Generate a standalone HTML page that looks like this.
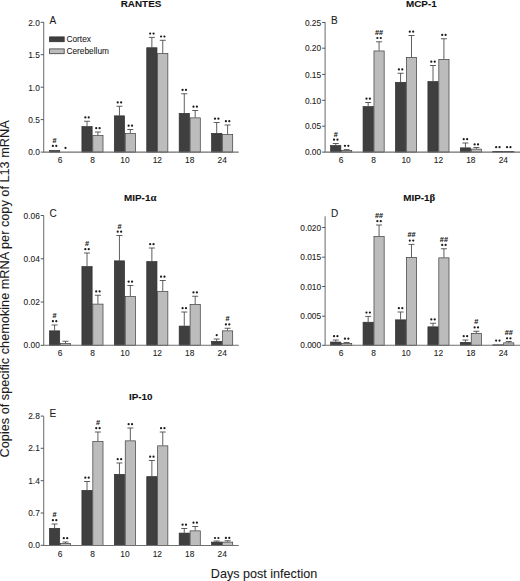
<!DOCTYPE html>
<html><head><meta charset="utf-8"><title>Chemokine mRNA</title>
<style>
html,body{margin:0;padding:0;background:#fff;}
body{width:520px;height:581px;overflow:hidden;font-family:"Liberation Sans",sans-serif;}
svg{display:block;}
svg text{font-family:"Liberation Sans",sans-serif;stroke:#222;stroke-width:0.08px;}
</style></head>
<body>
<svg width="520" height="581" viewBox="0 0 520 581">
<rect width="520" height="581" fill="#fff"/>
<rect x="49.50" y="150.55" width="10.20" height="1.55" fill="#3f3f3f" stroke="#2e2e2e" stroke-width="0.7"/>
<circle cx="52.90" cy="145.90" r="1.12" fill="#1c1c1c"/><circle cx="56.30" cy="145.90" r="1.12" fill="#1c1c1c"/>
<text x="54.60" y="142.70" font-size="7.3" font-weight="bold" text-anchor="middle" fill="#111" stroke="#111" stroke-width="0.2">#</text>
<circle cx="65.50" cy="147.90" r="1.1" fill="#1c1c1c"/>
<path d="M87.02 126.25V121.25M84.02 121.25H90.02" stroke="#4c4c4c" stroke-width="0.9" fill="none"/>
<rect x="81.92" y="126.60" width="10.20" height="25.50" fill="#3f3f3f" stroke="#2e2e2e" stroke-width="0.7"/>
<circle cx="85.32" cy="117.45" r="1.12" fill="#1c1c1c"/><circle cx="88.72" cy="117.45" r="1.12" fill="#1c1c1c"/>
<path d="M97.92 135.25V132.00M94.92 132.00H100.92" stroke="#4c4c4c" stroke-width="0.9" fill="none"/>
<rect x="92.82" y="135.60" width="10.20" height="16.50" fill="#bcbcbc" stroke="#3c3c3c" stroke-width="0.7"/>
<circle cx="96.22" cy="128.20" r="1.12" fill="#1c1c1c"/><circle cx="99.62" cy="128.20" r="1.12" fill="#1c1c1c"/>
<path d="M119.44 115.50V106.25M116.44 106.25H122.44" stroke="#4c4c4c" stroke-width="0.9" fill="none"/>
<rect x="114.34" y="115.85" width="10.20" height="36.25" fill="#3f3f3f" stroke="#2e2e2e" stroke-width="0.7"/>
<circle cx="117.74" cy="102.45" r="1.12" fill="#1c1c1c"/><circle cx="121.14" cy="102.45" r="1.12" fill="#1c1c1c"/>
<path d="M130.34 133.25V129.50M127.34 129.50H133.34" stroke="#4c4c4c" stroke-width="0.9" fill="none"/>
<rect x="125.24" y="133.60" width="10.20" height="18.50" fill="#bcbcbc" stroke="#3c3c3c" stroke-width="0.7"/>
<circle cx="128.64" cy="125.70" r="1.12" fill="#1c1c1c"/><circle cx="132.04" cy="125.70" r="1.12" fill="#1c1c1c"/>
<path d="M151.86 47.40V37.40M148.86 37.40H154.86" stroke="#4c4c4c" stroke-width="0.9" fill="none"/>
<rect x="146.76" y="47.75" width="10.20" height="104.35" fill="#3f3f3f" stroke="#2e2e2e" stroke-width="0.7"/>
<circle cx="150.16" cy="33.60" r="1.12" fill="#1c1c1c"/><circle cx="153.56" cy="33.60" r="1.12" fill="#1c1c1c"/>
<path d="M162.76 53.20V40.30M159.76 40.30H165.76" stroke="#4c4c4c" stroke-width="0.9" fill="none"/>
<rect x="157.66" y="53.55" width="10.20" height="98.55" fill="#bcbcbc" stroke="#3c3c3c" stroke-width="0.7"/>
<circle cx="161.06" cy="36.50" r="1.12" fill="#1c1c1c"/><circle cx="164.46" cy="36.50" r="1.12" fill="#1c1c1c"/>
<path d="M184.28 113.00V93.75M181.28 93.75H187.28" stroke="#4c4c4c" stroke-width="0.9" fill="none"/>
<rect x="179.18" y="113.35" width="10.20" height="38.75" fill="#3f3f3f" stroke="#2e2e2e" stroke-width="0.7"/>
<circle cx="182.58" cy="89.95" r="1.12" fill="#1c1c1c"/><circle cx="185.98" cy="89.95" r="1.12" fill="#1c1c1c"/>
<path d="M195.18 117.50V110.50M192.18 110.50H198.18" stroke="#4c4c4c" stroke-width="0.9" fill="none"/>
<rect x="190.08" y="117.85" width="10.20" height="34.25" fill="#bcbcbc" stroke="#3c3c3c" stroke-width="0.7"/>
<circle cx="193.48" cy="106.70" r="1.12" fill="#1c1c1c"/><circle cx="196.88" cy="106.70" r="1.12" fill="#1c1c1c"/>
<path d="M216.70 133.00V122.50M213.70 122.50H219.70" stroke="#4c4c4c" stroke-width="0.9" fill="none"/>
<rect x="211.60" y="133.35" width="10.20" height="18.75" fill="#3f3f3f" stroke="#2e2e2e" stroke-width="0.7"/>
<circle cx="215.00" cy="118.70" r="1.12" fill="#1c1c1c"/><circle cx="218.40" cy="118.70" r="1.12" fill="#1c1c1c"/>
<path d="M227.60 134.25V125.00M224.60 125.00H230.60" stroke="#4c4c4c" stroke-width="0.9" fill="none"/>
<rect x="222.50" y="134.60" width="10.20" height="17.50" fill="#bcbcbc" stroke="#3c3c3c" stroke-width="0.7"/>
<circle cx="225.90" cy="121.20" r="1.12" fill="#1c1c1c"/><circle cx="229.30" cy="121.20" r="1.12" fill="#1c1c1c"/>
<path d="M43.70 22.00V152.10H238.75" stroke="#707070" stroke-width="1.05" fill="none"/>
<path d="M40.70 22.30H43.70" stroke="#555" stroke-width="1"/>
<text x="39.80" y="25.60" font-size="8.4" text-anchor="end" fill="#1a1a1a">2.0</text>
<path d="M40.70 54.70H43.70" stroke="#555" stroke-width="1"/>
<text x="39.80" y="58.00" font-size="8.4" text-anchor="end" fill="#1a1a1a">1.5</text>
<path d="M40.70 87.20H43.70" stroke="#555" stroke-width="1"/>
<text x="39.80" y="90.50" font-size="8.4" text-anchor="end" fill="#1a1a1a">1.0</text>
<path d="M40.70 119.60H43.70" stroke="#555" stroke-width="1"/>
<text x="39.80" y="122.90" font-size="8.4" text-anchor="end" fill="#1a1a1a">0.5</text>
<path d="M40.70 152.10H43.70" stroke="#555" stroke-width="1"/>
<text x="39.80" y="155.40" font-size="8.4" text-anchor="end" fill="#1a1a1a">0.0</text>
<text x="60.05" y="163.20" font-size="8.4" text-anchor="middle" fill="#1a1a1a">6</text>
<text x="92.47" y="163.20" font-size="8.4" text-anchor="middle" fill="#1a1a1a">8</text>
<text x="124.89" y="163.20" font-size="8.4" text-anchor="middle" fill="#1a1a1a">10</text>
<text x="157.31" y="163.20" font-size="8.4" text-anchor="middle" fill="#1a1a1a">12</text>
<text x="189.73" y="163.20" font-size="8.4" text-anchor="middle" fill="#1a1a1a">18</text>
<text x="222.15" y="163.20" font-size="8.4" text-anchor="middle" fill="#1a1a1a">24</text>
<text x="49.50" y="23.70" font-size="10" fill="#1a1a1a">A</text>
<text transform="translate(141.00 7.35) scale(1.02 1)" font-size="9.7" font-weight="bold" text-anchor="middle" fill="#111">RANTES</text>
<path d="M335.75 145.25V143.50M332.75 143.50H338.75" stroke="#4c4c4c" stroke-width="0.9" fill="none"/>
<rect x="330.65" y="145.60" width="10.20" height="6.50" fill="#3f3f3f" stroke="#2e2e2e" stroke-width="0.7"/>
<circle cx="334.05" cy="139.70" r="1.12" fill="#1c1c1c"/><circle cx="337.45" cy="139.70" r="1.12" fill="#1c1c1c"/>
<text x="335.75" y="136.50" font-size="7.3" font-weight="bold" text-anchor="middle" fill="#111" stroke="#111" stroke-width="0.2">#</text>
<path d="M346.65 150.25V149.60M343.65 149.60H349.65" stroke="#4c4c4c" stroke-width="0.9" fill="none"/>
<rect x="341.55" y="150.60" width="10.20" height="1.50" fill="#bcbcbc" stroke="#3c3c3c" stroke-width="0.7"/>
<circle cx="344.95" cy="145.80" r="1.12" fill="#1c1c1c"/><circle cx="348.35" cy="145.80" r="1.12" fill="#1c1c1c"/>
<path d="M368.17 106.25V102.50M365.17 102.50H371.17" stroke="#4c4c4c" stroke-width="0.9" fill="none"/>
<rect x="363.07" y="106.60" width="10.20" height="45.50" fill="#3f3f3f" stroke="#2e2e2e" stroke-width="0.7"/>
<circle cx="366.47" cy="98.70" r="1.12" fill="#1c1c1c"/><circle cx="369.87" cy="98.70" r="1.12" fill="#1c1c1c"/>
<path d="M379.07 50.60V41.80M376.07 41.80H382.07" stroke="#4c4c4c" stroke-width="0.9" fill="none"/>
<rect x="373.97" y="50.95" width="10.20" height="101.15" fill="#bcbcbc" stroke="#3c3c3c" stroke-width="0.7"/>
<circle cx="377.37" cy="38.00" r="1.12" fill="#1c1c1c"/><circle cx="380.77" cy="38.00" r="1.12" fill="#1c1c1c"/>
<text x="379.07" y="34.80" font-size="7.3" font-weight="bold" text-anchor="middle" fill="#111" stroke="#111" stroke-width="0.2">##</text>
<path d="M400.59 82.00V73.25M397.59 73.25H403.59" stroke="#4c4c4c" stroke-width="0.9" fill="none"/>
<rect x="395.49" y="82.35" width="10.20" height="69.75" fill="#3f3f3f" stroke="#2e2e2e" stroke-width="0.7"/>
<circle cx="398.89" cy="69.45" r="1.12" fill="#1c1c1c"/><circle cx="402.29" cy="69.45" r="1.12" fill="#1c1c1c"/>
<path d="M411.49 57.00V35.50M408.49 35.50H414.49" stroke="#4c4c4c" stroke-width="0.9" fill="none"/>
<rect x="406.39" y="57.35" width="10.20" height="94.75" fill="#bcbcbc" stroke="#3c3c3c" stroke-width="0.7"/>
<circle cx="409.79" cy="31.70" r="1.12" fill="#1c1c1c"/><circle cx="413.19" cy="31.70" r="1.12" fill="#1c1c1c"/>
<path d="M433.01 81.25V65.50M430.01 65.50H436.01" stroke="#4c4c4c" stroke-width="0.9" fill="none"/>
<rect x="427.91" y="81.60" width="10.20" height="70.50" fill="#3f3f3f" stroke="#2e2e2e" stroke-width="0.7"/>
<circle cx="431.31" cy="61.70" r="1.12" fill="#1c1c1c"/><circle cx="434.71" cy="61.70" r="1.12" fill="#1c1c1c"/>
<path d="M443.91 59.00V38.75M440.91 38.75H446.91" stroke="#4c4c4c" stroke-width="0.9" fill="none"/>
<rect x="438.81" y="59.35" width="10.20" height="92.75" fill="#bcbcbc" stroke="#3c3c3c" stroke-width="0.7"/>
<circle cx="442.21" cy="34.95" r="1.12" fill="#1c1c1c"/><circle cx="445.61" cy="34.95" r="1.12" fill="#1c1c1c"/>
<path d="M465.43 147.50V143.00M462.43 143.00H468.43" stroke="#4c4c4c" stroke-width="0.9" fill="none"/>
<rect x="460.33" y="147.85" width="10.20" height="4.25" fill="#3f3f3f" stroke="#2e2e2e" stroke-width="0.7"/>
<circle cx="463.73" cy="139.20" r="1.12" fill="#1c1c1c"/><circle cx="467.13" cy="139.20" r="1.12" fill="#1c1c1c"/>
<path d="M476.33 148.75V147.50M473.33 147.50H479.33" stroke="#4c4c4c" stroke-width="0.9" fill="none"/>
<rect x="471.23" y="149.10" width="10.20" height="3.00" fill="#bcbcbc" stroke="#3c3c3c" stroke-width="0.7"/>
<circle cx="474.63" cy="144.40" r="1.12" fill="#1c1c1c"/><circle cx="478.03" cy="144.40" r="1.12" fill="#1c1c1c"/>
<rect x="492.75" y="151.55" width="10.20" height="0.55" fill="#3f3f3f" stroke="#2e2e2e" stroke-width="0.7"/>
<circle cx="496.15" cy="147.20" r="1.12" fill="#1c1c1c"/><circle cx="499.55" cy="147.20" r="1.12" fill="#1c1c1c"/>
<rect x="503.65" y="151.55" width="10.20" height="0.55" fill="#bcbcbc" stroke="#3c3c3c" stroke-width="0.7"/>
<circle cx="507.05" cy="147.20" r="1.12" fill="#1c1c1c"/><circle cx="510.45" cy="147.20" r="1.12" fill="#1c1c1c"/>
<path d="M325.10 22.00V152.10H520.00" stroke="#707070" stroke-width="1.05" fill="none"/>
<path d="M322.10 22.50H325.10" stroke="#555" stroke-width="1"/>
<text x="321.20" y="25.70" font-size="8.4" text-anchor="end" fill="#1a1a1a">0.25</text>
<path d="M322.10 48.20H325.10" stroke="#555" stroke-width="1"/>
<text x="321.20" y="51.40" font-size="8.4" text-anchor="end" fill="#1a1a1a">0.20</text>
<path d="M322.10 74.40H325.10" stroke="#555" stroke-width="1"/>
<text x="321.20" y="77.60" font-size="8.4" text-anchor="end" fill="#1a1a1a">0.15</text>
<path d="M322.10 100.30H325.10" stroke="#555" stroke-width="1"/>
<text x="321.20" y="103.50" font-size="8.4" text-anchor="end" fill="#1a1a1a">0.10</text>
<path d="M322.10 126.20H325.10" stroke="#555" stroke-width="1"/>
<text x="321.20" y="129.40" font-size="8.4" text-anchor="end" fill="#1a1a1a">0.05</text>
<path d="M322.10 152.10H325.10" stroke="#555" stroke-width="1"/>
<text x="321.20" y="155.30" font-size="8.4" text-anchor="end" fill="#1a1a1a">0.00</text>
<text x="341.20" y="163.20" font-size="8.4" text-anchor="middle" fill="#1a1a1a">6</text>
<text x="373.62" y="163.20" font-size="8.4" text-anchor="middle" fill="#1a1a1a">8</text>
<text x="406.04" y="163.20" font-size="8.4" text-anchor="middle" fill="#1a1a1a">10</text>
<text x="438.46" y="163.20" font-size="8.4" text-anchor="middle" fill="#1a1a1a">12</text>
<text x="470.88" y="163.20" font-size="8.4" text-anchor="middle" fill="#1a1a1a">18</text>
<text x="503.30" y="163.20" font-size="8.4" text-anchor="middle" fill="#1a1a1a">24</text>
<text x="330.90" y="23.75" font-size="10" fill="#1a1a1a">B</text>
<text transform="translate(421.30 7.35) scale(1.02 1)" font-size="9.7" font-weight="bold" text-anchor="middle" fill="#111">MCP-1</text>
<path d="M54.60 330.50V325.00M51.60 325.00H57.60" stroke="#4c4c4c" stroke-width="0.9" fill="none"/>
<rect x="49.50" y="330.85" width="10.20" height="14.45" fill="#3f3f3f" stroke="#2e2e2e" stroke-width="0.7"/>
<circle cx="52.90" cy="321.20" r="1.12" fill="#1c1c1c"/><circle cx="56.30" cy="321.20" r="1.12" fill="#1c1c1c"/>
<text x="54.60" y="318.00" font-size="7.3" font-weight="bold" text-anchor="middle" fill="#111" stroke="#111" stroke-width="0.2">#</text>
<path d="M65.50 343.25V341.25M62.50 341.25H68.50" stroke="#4c4c4c" stroke-width="0.9" fill="none"/>
<rect x="60.40" y="343.60" width="10.20" height="1.70" fill="#bcbcbc" stroke="#3c3c3c" stroke-width="0.7"/>
<path d="M87.02 266.25V253.00M84.02 253.00H90.02" stroke="#4c4c4c" stroke-width="0.9" fill="none"/>
<rect x="81.92" y="266.60" width="10.20" height="78.70" fill="#3f3f3f" stroke="#2e2e2e" stroke-width="0.7"/>
<circle cx="85.32" cy="249.20" r="1.12" fill="#1c1c1c"/><circle cx="88.72" cy="249.20" r="1.12" fill="#1c1c1c"/>
<text x="87.02" y="246.00" font-size="7.3" font-weight="bold" text-anchor="middle" fill="#111" stroke="#111" stroke-width="0.2">#</text>
<path d="M97.92 303.75V295.25M94.92 295.25H100.92" stroke="#4c4c4c" stroke-width="0.9" fill="none"/>
<rect x="92.82" y="304.10" width="10.20" height="41.20" fill="#bcbcbc" stroke="#3c3c3c" stroke-width="0.7"/>
<circle cx="96.22" cy="291.45" r="1.12" fill="#1c1c1c"/><circle cx="99.62" cy="291.45" r="1.12" fill="#1c1c1c"/>
<path d="M119.44 260.50V235.50M116.44 235.50H122.44" stroke="#4c4c4c" stroke-width="0.9" fill="none"/>
<rect x="114.34" y="260.85" width="10.20" height="84.45" fill="#3f3f3f" stroke="#2e2e2e" stroke-width="0.7"/>
<circle cx="117.74" cy="231.70" r="1.12" fill="#1c1c1c"/><circle cx="121.14" cy="231.70" r="1.12" fill="#1c1c1c"/>
<text x="119.44" y="228.50" font-size="7.3" font-weight="bold" text-anchor="middle" fill="#111" stroke="#111" stroke-width="0.2">#</text>
<path d="M130.34 296.00V285.50M127.34 285.50H133.34" stroke="#4c4c4c" stroke-width="0.9" fill="none"/>
<rect x="125.24" y="296.35" width="10.20" height="48.95" fill="#bcbcbc" stroke="#3c3c3c" stroke-width="0.7"/>
<circle cx="128.64" cy="281.70" r="1.12" fill="#1c1c1c"/><circle cx="132.04" cy="281.70" r="1.12" fill="#1c1c1c"/>
<path d="M151.86 261.25V248.00M148.86 248.00H154.86" stroke="#4c4c4c" stroke-width="0.9" fill="none"/>
<rect x="146.76" y="261.60" width="10.20" height="83.70" fill="#3f3f3f" stroke="#2e2e2e" stroke-width="0.7"/>
<circle cx="150.16" cy="244.20" r="1.12" fill="#1c1c1c"/><circle cx="153.56" cy="244.20" r="1.12" fill="#1c1c1c"/>
<path d="M162.76 291.25V280.50M159.76 280.50H165.76" stroke="#4c4c4c" stroke-width="0.9" fill="none"/>
<rect x="157.66" y="291.60" width="10.20" height="53.70" fill="#bcbcbc" stroke="#3c3c3c" stroke-width="0.7"/>
<circle cx="161.06" cy="276.70" r="1.12" fill="#1c1c1c"/><circle cx="164.46" cy="276.70" r="1.12" fill="#1c1c1c"/>
<path d="M184.28 325.75V312.00M181.28 312.00H187.28" stroke="#4c4c4c" stroke-width="0.9" fill="none"/>
<rect x="179.18" y="326.10" width="10.20" height="19.20" fill="#3f3f3f" stroke="#2e2e2e" stroke-width="0.7"/>
<circle cx="182.58" cy="308.20" r="1.12" fill="#1c1c1c"/><circle cx="185.98" cy="308.20" r="1.12" fill="#1c1c1c"/>
<path d="M195.18 304.00V296.25M192.18 296.25H198.18" stroke="#4c4c4c" stroke-width="0.9" fill="none"/>
<rect x="190.08" y="304.35" width="10.20" height="40.95" fill="#bcbcbc" stroke="#3c3c3c" stroke-width="0.7"/>
<circle cx="193.48" cy="292.45" r="1.12" fill="#1c1c1c"/><circle cx="196.88" cy="292.45" r="1.12" fill="#1c1c1c"/>
<path d="M216.70 341.00V339.00M213.70 339.00H219.70" stroke="#4c4c4c" stroke-width="0.9" fill="none"/>
<rect x="211.60" y="341.35" width="10.20" height="3.95" fill="#3f3f3f" stroke="#2e2e2e" stroke-width="0.7"/>
<circle cx="216.70" cy="335.20" r="1.1" fill="#1c1c1c"/>
<path d="M227.60 330.50V328.25M224.60 328.25H230.60" stroke="#4c4c4c" stroke-width="0.9" fill="none"/>
<rect x="222.50" y="330.85" width="10.20" height="14.45" fill="#bcbcbc" stroke="#3c3c3c" stroke-width="0.7"/>
<circle cx="225.90" cy="324.45" r="1.12" fill="#1c1c1c"/><circle cx="229.30" cy="324.45" r="1.12" fill="#1c1c1c"/>
<text x="227.60" y="321.25" font-size="7.3" font-weight="bold" text-anchor="middle" fill="#111" stroke="#111" stroke-width="0.2">#</text>
<path d="M43.70 215.50V345.30H238.75" stroke="#707070" stroke-width="1.05" fill="none"/>
<path d="M40.70 215.50H43.70" stroke="#555" stroke-width="1"/>
<text x="39.80" y="218.50" font-size="8.4" text-anchor="end" fill="#1a1a1a">0.06</text>
<path d="M40.70 258.80H43.70" stroke="#555" stroke-width="1"/>
<text x="39.80" y="261.80" font-size="8.4" text-anchor="end" fill="#1a1a1a">0.04</text>
<path d="M40.70 302.00H43.70" stroke="#555" stroke-width="1"/>
<text x="39.80" y="305.00" font-size="8.4" text-anchor="end" fill="#1a1a1a">0.02</text>
<path d="M40.70 345.30H43.70" stroke="#555" stroke-width="1"/>
<text x="39.80" y="348.30" font-size="8.4" text-anchor="end" fill="#1a1a1a">0.00</text>
<text x="60.05" y="356.40" font-size="8.4" text-anchor="middle" fill="#1a1a1a">6</text>
<text x="92.47" y="356.40" font-size="8.4" text-anchor="middle" fill="#1a1a1a">8</text>
<text x="124.89" y="356.40" font-size="8.4" text-anchor="middle" fill="#1a1a1a">10</text>
<text x="157.31" y="356.40" font-size="8.4" text-anchor="middle" fill="#1a1a1a">12</text>
<text x="189.73" y="356.40" font-size="8.4" text-anchor="middle" fill="#1a1a1a">18</text>
<text x="222.15" y="356.40" font-size="8.4" text-anchor="middle" fill="#1a1a1a">24</text>
<text x="49.50" y="217.00" font-size="10" fill="#1a1a1a">C</text>
<text transform="translate(140.20 200.85) scale(1.02 1)" font-size="9.7" font-weight="bold" text-anchor="middle" fill="#111">MIP-1<tspan font-family="Liberation Serif" font-weight="bold" font-size="10.5">α</tspan></text>
<path d="M335.75 341.70V340.00M332.75 340.00H338.75" stroke="#4c4c4c" stroke-width="0.9" fill="none"/>
<rect x="330.65" y="342.05" width="10.20" height="3.25" fill="#3f3f3f" stroke="#2e2e2e" stroke-width="0.7"/>
<circle cx="334.05" cy="336.20" r="1.12" fill="#1c1c1c"/><circle cx="337.45" cy="336.20" r="1.12" fill="#1c1c1c"/>
<path d="M346.65 343.25V342.50M343.65 342.50H349.65" stroke="#4c4c4c" stroke-width="0.9" fill="none"/>
<rect x="341.55" y="343.60" width="10.20" height="1.70" fill="#bcbcbc" stroke="#3c3c3c" stroke-width="0.7"/>
<circle cx="344.95" cy="338.70" r="1.12" fill="#1c1c1c"/><circle cx="348.35" cy="338.70" r="1.12" fill="#1c1c1c"/>
<path d="M368.17 321.90V316.40M365.17 316.40H371.17" stroke="#4c4c4c" stroke-width="0.9" fill="none"/>
<rect x="363.07" y="322.25" width="10.20" height="23.05" fill="#3f3f3f" stroke="#2e2e2e" stroke-width="0.7"/>
<circle cx="366.47" cy="312.60" r="1.12" fill="#1c1c1c"/><circle cx="369.87" cy="312.60" r="1.12" fill="#1c1c1c"/>
<path d="M379.07 236.25V225.00M376.07 225.00H382.07" stroke="#4c4c4c" stroke-width="0.9" fill="none"/>
<rect x="373.97" y="236.60" width="10.20" height="108.70" fill="#bcbcbc" stroke="#3c3c3c" stroke-width="0.7"/>
<circle cx="377.37" cy="221.20" r="1.12" fill="#1c1c1c"/><circle cx="380.77" cy="221.20" r="1.12" fill="#1c1c1c"/>
<text x="379.07" y="218.00" font-size="7.3" font-weight="bold" text-anchor="middle" fill="#111" stroke="#111" stroke-width="0.2">##</text>
<path d="M400.59 319.50V312.00M397.59 312.00H403.59" stroke="#4c4c4c" stroke-width="0.9" fill="none"/>
<rect x="395.49" y="319.85" width="10.20" height="25.45" fill="#3f3f3f" stroke="#2e2e2e" stroke-width="0.7"/>
<circle cx="398.89" cy="308.20" r="1.12" fill="#1c1c1c"/><circle cx="402.29" cy="308.20" r="1.12" fill="#1c1c1c"/>
<path d="M411.49 257.00V244.40M408.49 244.40H414.49" stroke="#4c4c4c" stroke-width="0.9" fill="none"/>
<rect x="406.39" y="257.35" width="10.20" height="87.95" fill="#bcbcbc" stroke="#3c3c3c" stroke-width="0.7"/>
<circle cx="409.79" cy="240.60" r="1.12" fill="#1c1c1c"/><circle cx="413.19" cy="240.60" r="1.12" fill="#1c1c1c"/>
<text x="411.49" y="237.40" font-size="7.3" font-weight="bold" text-anchor="middle" fill="#111" stroke="#111" stroke-width="0.2">##</text>
<path d="M433.01 326.50V323.25M430.01 323.25H436.01" stroke="#4c4c4c" stroke-width="0.9" fill="none"/>
<rect x="427.91" y="326.85" width="10.20" height="18.45" fill="#3f3f3f" stroke="#2e2e2e" stroke-width="0.7"/>
<circle cx="431.31" cy="319.45" r="1.12" fill="#1c1c1c"/><circle cx="434.71" cy="319.45" r="1.12" fill="#1c1c1c"/>
<path d="M443.91 257.50V248.75M440.91 248.75H446.91" stroke="#4c4c4c" stroke-width="0.9" fill="none"/>
<rect x="438.81" y="257.85" width="10.20" height="87.45" fill="#bcbcbc" stroke="#3c3c3c" stroke-width="0.7"/>
<circle cx="442.21" cy="244.95" r="1.12" fill="#1c1c1c"/><circle cx="445.61" cy="244.95" r="1.12" fill="#1c1c1c"/>
<text x="443.91" y="241.75" font-size="7.3" font-weight="bold" text-anchor="middle" fill="#111" stroke="#111" stroke-width="0.2">##</text>
<path d="M465.43 342.00V340.00M462.43 340.00H468.43" stroke="#4c4c4c" stroke-width="0.9" fill="none"/>
<rect x="460.33" y="342.35" width="10.20" height="2.95" fill="#3f3f3f" stroke="#2e2e2e" stroke-width="0.7"/>
<circle cx="463.73" cy="336.20" r="1.12" fill="#1c1c1c"/><circle cx="467.13" cy="336.20" r="1.12" fill="#1c1c1c"/>
<path d="M476.33 333.00V331.25M473.33 331.25H479.33" stroke="#4c4c4c" stroke-width="0.9" fill="none"/>
<rect x="471.23" y="333.35" width="10.20" height="11.95" fill="#bcbcbc" stroke="#3c3c3c" stroke-width="0.7"/>
<circle cx="474.63" cy="327.45" r="1.12" fill="#1c1c1c"/><circle cx="478.03" cy="327.45" r="1.12" fill="#1c1c1c"/>
<text x="476.33" y="324.25" font-size="7.3" font-weight="bold" text-anchor="middle" fill="#111" stroke="#111" stroke-width="0.2">#</text>
<rect x="492.75" y="344.85" width="10.20" height="0.45" fill="#3f3f3f" stroke="#2e2e2e" stroke-width="0.7"/>
<circle cx="496.15" cy="340.60" r="1.12" fill="#1c1c1c"/><circle cx="499.55" cy="340.60" r="1.12" fill="#1c1c1c"/>
<path d="M508.75 342.50V341.50M505.75 341.50H511.75" stroke="#4c4c4c" stroke-width="0.9" fill="none"/>
<rect x="503.65" y="342.85" width="10.20" height="2.45" fill="#bcbcbc" stroke="#3c3c3c" stroke-width="0.7"/>
<circle cx="507.05" cy="338.30" r="1.12" fill="#1c1c1c"/><circle cx="510.45" cy="338.30" r="1.12" fill="#1c1c1c"/>
<text x="508.75" y="335.10" font-size="7.3" font-weight="bold" text-anchor="middle" fill="#111" stroke="#111" stroke-width="0.2">##</text>
<path d="M325.10 216.20V345.30H520.00" stroke="#707070" stroke-width="1.05" fill="none"/>
<path d="M322.10 227.50H325.10" stroke="#555" stroke-width="1"/>
<text x="321.20" y="230.50" font-size="8.4" text-anchor="end" fill="#1a1a1a">0.020</text>
<path d="M322.10 257.20H325.10" stroke="#555" stroke-width="1"/>
<text x="321.20" y="260.20" font-size="8.4" text-anchor="end" fill="#1a1a1a">0.015</text>
<path d="M322.10 286.50H325.10" stroke="#555" stroke-width="1"/>
<text x="321.20" y="289.50" font-size="8.4" text-anchor="end" fill="#1a1a1a">0.010</text>
<path d="M322.10 316.20H325.10" stroke="#555" stroke-width="1"/>
<text x="321.20" y="319.20" font-size="8.4" text-anchor="end" fill="#1a1a1a">0.005</text>
<path d="M322.10 345.30H325.10" stroke="#555" stroke-width="1"/>
<text x="321.20" y="348.30" font-size="8.4" text-anchor="end" fill="#1a1a1a">0.000</text>
<text x="341.20" y="356.40" font-size="8.4" text-anchor="middle" fill="#1a1a1a">6</text>
<text x="373.62" y="356.40" font-size="8.4" text-anchor="middle" fill="#1a1a1a">8</text>
<text x="406.04" y="356.40" font-size="8.4" text-anchor="middle" fill="#1a1a1a">10</text>
<text x="438.46" y="356.40" font-size="8.4" text-anchor="middle" fill="#1a1a1a">12</text>
<text x="470.88" y="356.40" font-size="8.4" text-anchor="middle" fill="#1a1a1a">18</text>
<text x="503.30" y="356.40" font-size="8.4" text-anchor="middle" fill="#1a1a1a">24</text>
<text x="330.90" y="217.00" font-size="10" fill="#1a1a1a">D</text>
<text transform="translate(419.20 200.85) scale(1.02 1)" font-size="9.7" font-weight="bold" text-anchor="middle" fill="#111">MIP-1<tspan font-family="Liberation Serif" font-weight="bold" font-size="10.5">β</tspan></text>
<path d="M54.60 528.00V524.00M51.60 524.00H57.60" stroke="#4c4c4c" stroke-width="0.9" fill="none"/>
<rect x="49.50" y="528.35" width="10.20" height="17.05" fill="#3f3f3f" stroke="#2e2e2e" stroke-width="0.7"/>
<circle cx="52.90" cy="520.20" r="1.12" fill="#1c1c1c"/><circle cx="56.30" cy="520.20" r="1.12" fill="#1c1c1c"/>
<text x="54.60" y="517.00" font-size="7.3" font-weight="bold" text-anchor="middle" fill="#111" stroke="#111" stroke-width="0.2">#</text>
<path d="M65.50 543.00V542.00M62.50 542.00H68.50" stroke="#4c4c4c" stroke-width="0.9" fill="none"/>
<rect x="60.40" y="543.35" width="10.20" height="2.05" fill="#bcbcbc" stroke="#3c3c3c" stroke-width="0.7"/>
<circle cx="63.80" cy="538.20" r="1.12" fill="#1c1c1c"/><circle cx="67.20" cy="538.20" r="1.12" fill="#1c1c1c"/>
<path d="M87.02 490.00V481.50M84.02 481.50H90.02" stroke="#4c4c4c" stroke-width="0.9" fill="none"/>
<rect x="81.92" y="490.35" width="10.20" height="55.05" fill="#3f3f3f" stroke="#2e2e2e" stroke-width="0.7"/>
<circle cx="85.32" cy="477.70" r="1.12" fill="#1c1c1c"/><circle cx="88.72" cy="477.70" r="1.12" fill="#1c1c1c"/>
<path d="M97.92 441.25V432.00M94.92 432.00H100.92" stroke="#4c4c4c" stroke-width="0.9" fill="none"/>
<rect x="92.82" y="441.60" width="10.20" height="103.80" fill="#bcbcbc" stroke="#3c3c3c" stroke-width="0.7"/>
<circle cx="96.22" cy="428.20" r="1.12" fill="#1c1c1c"/><circle cx="99.62" cy="428.20" r="1.12" fill="#1c1c1c"/>
<text x="97.92" y="425.00" font-size="7.3" font-weight="bold" text-anchor="middle" fill="#111" stroke="#111" stroke-width="0.2">#</text>
<path d="M119.44 474.00V463.00M116.44 463.00H122.44" stroke="#4c4c4c" stroke-width="0.9" fill="none"/>
<rect x="114.34" y="474.35" width="10.20" height="71.05" fill="#3f3f3f" stroke="#2e2e2e" stroke-width="0.7"/>
<circle cx="117.74" cy="459.20" r="1.12" fill="#1c1c1c"/><circle cx="121.14" cy="459.20" r="1.12" fill="#1c1c1c"/>
<path d="M130.34 440.50V428.00M127.34 428.00H133.34" stroke="#4c4c4c" stroke-width="0.9" fill="none"/>
<rect x="125.24" y="440.85" width="10.20" height="104.55" fill="#bcbcbc" stroke="#3c3c3c" stroke-width="0.7"/>
<circle cx="128.64" cy="424.20" r="1.12" fill="#1c1c1c"/><circle cx="132.04" cy="424.20" r="1.12" fill="#1c1c1c"/>
<path d="M151.86 476.30V460.50M148.86 460.50H154.86" stroke="#4c4c4c" stroke-width="0.9" fill="none"/>
<rect x="146.76" y="476.65" width="10.20" height="68.75" fill="#3f3f3f" stroke="#2e2e2e" stroke-width="0.7"/>
<circle cx="150.16" cy="456.70" r="1.12" fill="#1c1c1c"/><circle cx="153.56" cy="456.70" r="1.12" fill="#1c1c1c"/>
<path d="M162.76 445.50V432.00M159.76 432.00H165.76" stroke="#4c4c4c" stroke-width="0.9" fill="none"/>
<rect x="157.66" y="445.85" width="10.20" height="99.55" fill="#bcbcbc" stroke="#3c3c3c" stroke-width="0.7"/>
<circle cx="161.06" cy="428.20" r="1.12" fill="#1c1c1c"/><circle cx="164.46" cy="428.20" r="1.12" fill="#1c1c1c"/>
<path d="M184.28 532.75V528.50M181.28 528.50H187.28" stroke="#4c4c4c" stroke-width="0.9" fill="none"/>
<rect x="179.18" y="533.10" width="10.20" height="12.30" fill="#3f3f3f" stroke="#2e2e2e" stroke-width="0.7"/>
<circle cx="182.58" cy="524.70" r="1.12" fill="#1c1c1c"/><circle cx="185.98" cy="524.70" r="1.12" fill="#1c1c1c"/>
<path d="M195.18 530.50V526.50M192.18 526.50H198.18" stroke="#4c4c4c" stroke-width="0.9" fill="none"/>
<rect x="190.08" y="530.85" width="10.20" height="14.55" fill="#bcbcbc" stroke="#3c3c3c" stroke-width="0.7"/>
<circle cx="193.48" cy="522.70" r="1.12" fill="#1c1c1c"/><circle cx="196.88" cy="522.70" r="1.12" fill="#1c1c1c"/>
<path d="M216.70 541.75V541.00M213.70 541.00H219.70" stroke="#4c4c4c" stroke-width="0.9" fill="none"/>
<rect x="211.60" y="542.10" width="10.20" height="3.30" fill="#3f3f3f" stroke="#2e2e2e" stroke-width="0.7"/>
<circle cx="215.00" cy="538.00" r="1.12" fill="#1c1c1c"/><circle cx="218.40" cy="538.00" r="1.12" fill="#1c1c1c"/>
<path d="M227.60 541.75V540.75M224.60 540.75H230.60" stroke="#4c4c4c" stroke-width="0.9" fill="none"/>
<rect x="222.50" y="542.10" width="10.20" height="3.30" fill="#bcbcbc" stroke="#3c3c3c" stroke-width="0.7"/>
<circle cx="225.90" cy="537.90" r="1.12" fill="#1c1c1c"/><circle cx="229.30" cy="537.90" r="1.12" fill="#1c1c1c"/>
<path d="M43.70 416.20V545.40H238.75" stroke="#707070" stroke-width="1.05" fill="none"/>
<path d="M40.70 416.10H43.70" stroke="#555" stroke-width="1"/>
<text x="39.80" y="419.10" font-size="8.4" text-anchor="end" fill="#1a1a1a">2.8</text>
<path d="M40.70 448.30H43.70" stroke="#555" stroke-width="1"/>
<text x="39.80" y="451.30" font-size="8.4" text-anchor="end" fill="#1a1a1a">2.1</text>
<path d="M40.70 480.70H43.70" stroke="#555" stroke-width="1"/>
<text x="39.80" y="483.70" font-size="8.4" text-anchor="end" fill="#1a1a1a">1.4</text>
<path d="M40.70 513.00H43.70" stroke="#555" stroke-width="1"/>
<text x="39.80" y="516.00" font-size="8.4" text-anchor="end" fill="#1a1a1a">0.7</text>
<path d="M40.70 545.30H43.70" stroke="#555" stroke-width="1"/>
<text x="39.80" y="548.30" font-size="8.4" text-anchor="end" fill="#1a1a1a">0.0</text>
<text x="60.05" y="556.50" font-size="8.4" text-anchor="middle" fill="#1a1a1a">6</text>
<text x="92.47" y="556.50" font-size="8.4" text-anchor="middle" fill="#1a1a1a">8</text>
<text x="124.89" y="556.50" font-size="8.4" text-anchor="middle" fill="#1a1a1a">10</text>
<text x="157.31" y="556.50" font-size="8.4" text-anchor="middle" fill="#1a1a1a">12</text>
<text x="189.73" y="556.50" font-size="8.4" text-anchor="middle" fill="#1a1a1a">18</text>
<text x="222.15" y="556.50" font-size="8.4" text-anchor="middle" fill="#1a1a1a">24</text>
<text x="49.50" y="417.30" font-size="10" fill="#1a1a1a">E</text>
<text transform="translate(140.80 400.45) scale(1.02 1)" font-size="9.7" font-weight="bold" text-anchor="middle" fill="#111">IP-10</text>
<rect x="49.6" y="36.9" width="14.6" height="4.8" fill="#3f3f3f" stroke="#2e2e2e" stroke-width="0.8"/>
<rect x="49.6" y="48.9" width="14.6" height="4.8" fill="#bcbcbc" stroke="#3c3c3c" stroke-width="0.8"/>
<text x="66.5" y="42.3" font-size="8.3" fill="#1a1a1a">Cortex</text>
<text x="66.5" y="54.3" font-size="8.3" fill="#1a1a1a">Cerebellum</text>
<text transform="translate(9.3 288.9) rotate(-90) scale(1.06 1)" font-size="12" text-anchor="middle" fill="#1a1a1a">Copies of specific chemokine mRNA per copy of L13 mRNA</text>
<text x="264" y="578" font-size="12.6" text-anchor="middle" fill="#1a1a1a">Days post infection</text>
</svg>
</body></html>
